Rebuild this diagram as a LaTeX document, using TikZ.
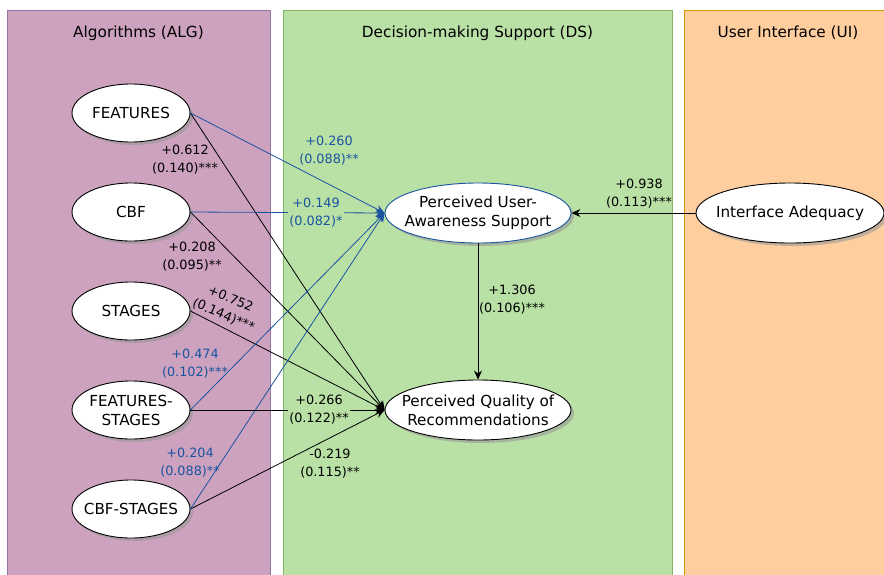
\documentclass[tikz,border=0pt]{standalone}
\usepackage{fontspec}
\setmainfont{DejaVu Sans}
\usetikzlibrary{arrows.meta,shadows,shapes.geometric}
\definecolor{algfill}{HTML}{CDA2BE}
\definecolor{algdraw}{HTML}{9673A6}
\definecolor{dsfill}{HTML}{B9E0A5}
\definecolor{dsdraw}{HTML}{82B366}
\definecolor{uifill}{HTML}{FFCE9F}
\definecolor{uidraw}{HTML}{D79B00}
\definecolor{pblue}{HTML}{1A54A0}
\tikzset{
  panel/.style={line width=0.8pt},
  ptitle/.style={font=\fontsize{15.3}{18}\selectfont},
  latent/.style={ellipse, draw=black, fill=white, line width=0.9pt, minimum width=118pt, minimum height=58pt, inner sep=0pt, drop shadow={shadow xshift=3pt, shadow yshift=-3pt, fill=black!40, opacity=0.6}},
  big/.style={latent, minimum width=186pt, minimum height=60pt},
  ltext/.style={align=center, inner sep=0pt, font=\fontsize{15.2}{19}\selectfont},
  lbl/.style={align=center, font=\fontsize{12.8}{18}\selectfont, inner sep=1pt},
  arr/.style={-{Stealth[length=9pt,width=8pt,inset=3pt]}, line width=0.8pt},
  barr/.style={arr, draw=pblue},
}
\begin{document}
\begin{tikzpicture}[x=1pt,y=-1pt]
\useasboundingbox (0,0) rectangle (884,574);
% panels
\draw[panel, fill=algfill, draw=algdraw] (7,10) rectangle (270,590);
\draw[panel, fill=dsfill, draw=dsdraw] (283,10) rectangle (672,590);
\draw[panel, fill=uifill, draw=uidraw] (684,10) rectangle (900,590);
\node[ptitle] (talg) at (138.5,33) {Algorithms (ALG)};
\node[ptitle] (tds) at (477.5,33) {Decision-making Support (DS)};
\node[ptitle] (tui) at (788,33) {User Interface (UI)};
% nodes
\node[latent] (feat) at (131,113) {};
\node[latent] (cbf) at (131,212) {};
\node[latent] (stg) at (131,311) {};
\node[latent] (fs) at (131,410) {};
\node[latent] (cs) at (131,509) {};
\node[big, draw=pblue] (puas) at (478,213) {};
\node[big] (pqr) at (478,410) {};
\node[latent, minimum width=188pt, minimum height=60pt] (ia) at (790,213) {};
\node[ltext] (featt) at (feat) {FEATURES};
\node[ltext] (cbft) at (cbf) {CBF};
\node[ltext] (stgt) at (stg) {STAGES};
\node[ltext] (fst) at (fs) {FEATURES-\\STAGES};
\node[ltext] (cst) at (cs) {CBF-STAGES};
\node[ltext] (puast) at (puas) {Perceived User-\\Awareness Support};
\node[ltext] (pqrt) at (pqr) {Perceived Quality of\\Recommendations};
\node[ltext] (iat) at (ia) {Interface Adequacy};
% edges
\draw[arr] (feat.east) -- (pqr.west);
\draw[arr] (cbf.east) -- (pqr.west);
\draw[arr] (stg.east) -- (pqr.west);
\draw[arr] (cs.east) -- (pqr.west);
\draw[barr] (feat.east) -- (puas.west);
\draw[barr] (fs.east) -- (puas.west);
\draw[barr] (cs.east) -- (puas.west);
\draw[barr] (cbf.east) -- (puas.west);
\draw[arr] (fs.east) -- (pqr.west);
\draw[arr] (puas.south) -- (pqr.north);
\draw[arr] (ia.west) -- (puas.east);
% labels
\node[lbl, text=pblue] (l1) at (329,151) {+0.260\\(0.088)**};
\node[lbl] (l2) at (185,160) {+0.612\\(0.140)***};
\node[lbl, text=pblue, fill=dsfill] (l3) at (316,213) {+0.149\\(0.082)*};
\node[lbl] (l4) at (192,257) {+0.208\\(0.095)**};
\node[lbl, rotate=-23] (l5) at (227,307) {+0.752\\(0.144)***};
\node[lbl, text=pblue] (l6) at (195,364) {+0.474\\(0.102)***};
\node[lbl, fill=dsfill] (l7) at (319,410) {+0.266\\(0.122)**};
\node[lbl, text=pblue] (l8) at (190,463) {+0.204\\(0.088)**};
\node[lbl] (l9) at (330,464) {-0.219\\(0.115)**};
\node[lbl] (l10) at (512,300) {+1.306\\(0.106)***};
\node[lbl] (l11) at (639,194) {+0.938\\(0.113)***};
\end{tikzpicture}
\end{document}
